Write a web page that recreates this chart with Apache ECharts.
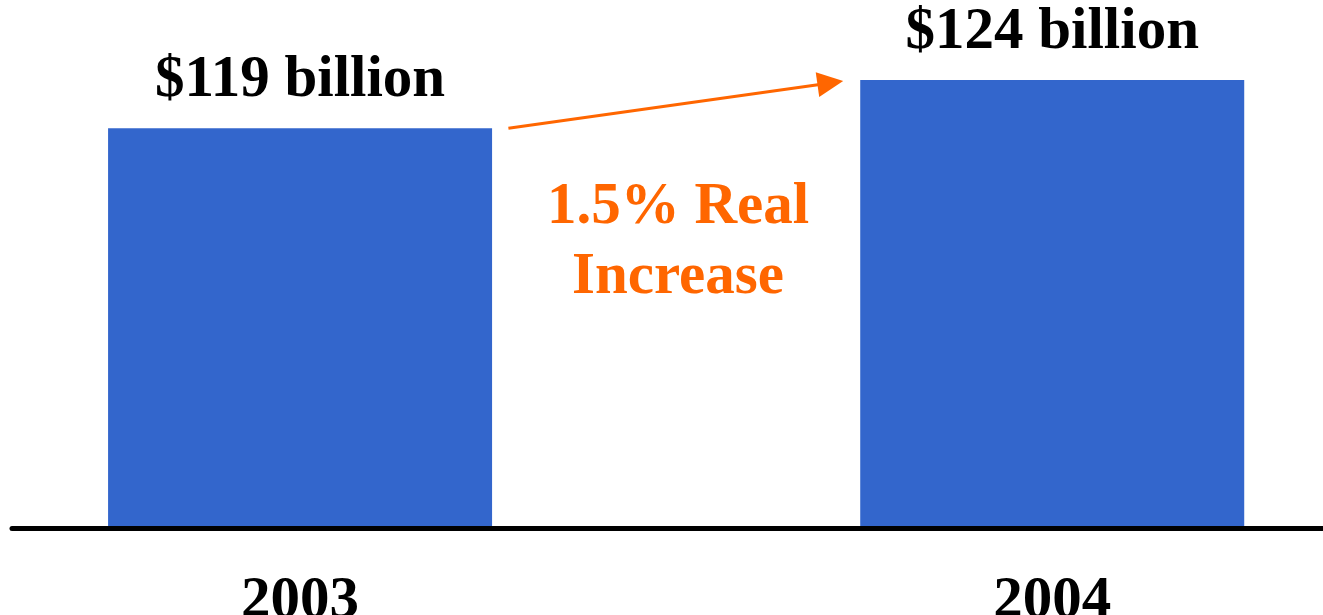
<!DOCTYPE html>
<html>
<head>
<meta charset="utf-8">
<script src="https://cdn.jsdelivr.net/npm/echarts@6/dist/echarts.min.js"></script>
<style>
  html, body { margin: 0; padding: 0; background: #ffffff; }
  #chart { width: 1323px; height: 615px; }
</style>
</head>
<body>
<div id="chart"></div>
<script>
// Federal budget totals, in billions of dollars
const years = [2003, 2004];
const totals = [119, 124];
const valueLabels = ['$119 billion', '$124 billion'];
const changeNote = '1.5% Real\nIncrease';

const serif = '"Liberation Serif", "Times New Roman", Times, serif';

const chart = echarts.init(document.getElementById('chart'));

chart.setOption({
  animation: false,
  backgroundColor: '#ffffff',
  grid: {
    left: 12, right: 0, top: 80, bottom: 87,
    containLabel: false,
    outerBoundsMode: 'none'
  },
  title: {
    text: changeNote,
    left: 673,
    top: 168,
    textAlign: 'center',
    textStyle: {
      color: '#FF6600',
      fontFamily: serif,
      fontWeight: 'bold',
      fontSize: 59,
      lineHeight: 70
    }
  },
  xAxis: {
    type: 'value',
    min: 2002.617,
    max: 2004.36,
    z: 3,
    splitLine: { show: false },
    axisTick: { show: false },
    axisLine: { show: true, lineStyle: { color: '#000000', width: 5 } },
    axisLabel: {
      customValues: years,
      formatter: v => String(v),
      margin: 44,
      color: '#000000',
      fontFamily: serif,
      fontWeight: 'bold',
      fontSize: 59
    }
  },
  yAxis: {
    type: 'value',
    min: 77.5,
    max: 124,
    show: false,
    splitLine: { show: false }
  },
  series: [{
    type: 'bar',
    barWidth: 384,
    data: years.map((y, i) => [y, totals[i]]),
    itemStyle: { color: '#3366CC' },
    label: {
      show: true,
      position: 'top',
      distance: 18,
      formatter: p => valueLabels[p.dataIndex],
      color: '#000000',
      fontFamily: serif,
      fontWeight: 'bold',
      fontSize: 59
    },
    markLine: {
      silent: true,
      symbol: ['none', 'triangle'],
      symbolSize: [25, 26],
      label: { show: false },
      lineStyle: { color: '#FF6600', width: 3, type: 'solid' },
      data: [[
        { coord: [2003.277, totals[0]] },
        { coord: [2003.705, 123.7] }
      ]]
    }
  }]
});
</script>
</body>
</html>
